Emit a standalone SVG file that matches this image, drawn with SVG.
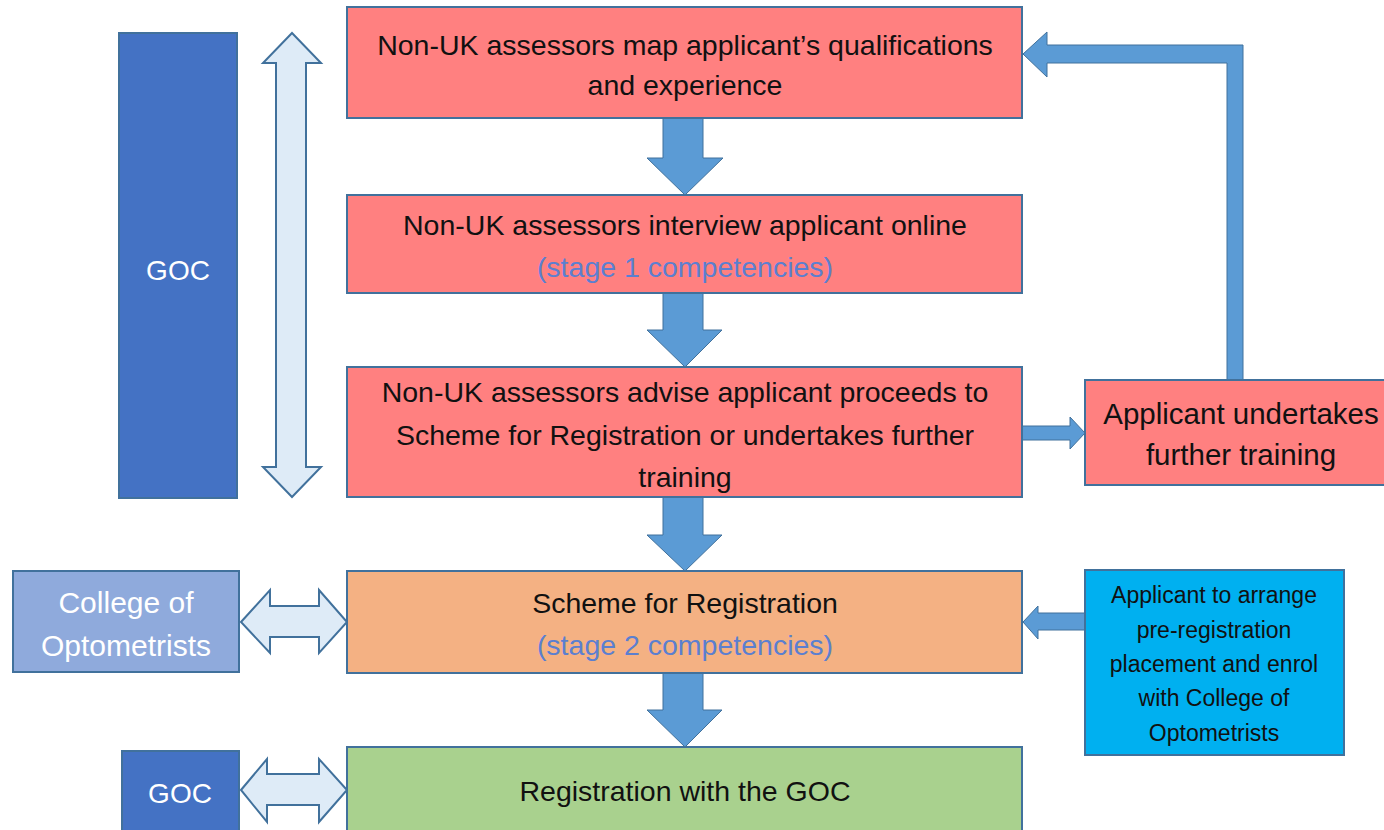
<svg xmlns="http://www.w3.org/2000/svg" width="1384" height="830" viewBox="0 0 1384 830">
<style>
.box{stroke:#41719c;stroke-width:2}
.red{fill:#ff8080}
.org{fill:#f4b183}
.grn{fill:#a9d18e}
.dk{fill:#4472c4}
.lt{fill:#8faadc}
.cy{fill:#00b0f0}
.arr{fill:#5b9bd5;stroke:#41719c;stroke-width:1}
.dbl{fill:#deebf7;stroke:#41719c;stroke-width:2}
text{font-family:"Liberation Sans",Arial,sans-serif;text-anchor:middle}
.t{font-size:28.5px;fill:#111}
.b{font-size:28.5px;fill:#5b7fd0}
.w{font-size:30px;fill:#fff}
.g{font-size:28px;fill:#fff}
.s{font-size:23px;fill:#111}
.f{font-size:29.5px;fill:#111}
</style>
<rect width="1384" height="830" fill="#fff"/>
<g id="connectors">
<path class="arr" d="M663 118 H703 V158 H723 L685 195 L647 158 H663 Z"/>
<path class="arr" d="M663 293 H703 V330 H722 L685 367 L647 330 H663 Z"/>
<path class="arr" d="M663 497 H703 V535 H722 L685 571 L647 535 H663 Z"/>
<path class="arr" d="M663 673 H703 V710 H722 L685 747 L647 710 H663 Z"/>
<path class="arr" d="M1022 426 H1070 V417 L1085 433 L1070 449 V440 H1022 Z"/>
<path class="arr" d="M1227 380 V63 H1047 V77 L1023 54 L1047 32 V45 H1243 V380 Z"/>
<path class="arr" d="M1085 613 H1038 V606 L1023 622 L1038 639 V630 H1085 Z"/>
<path class="dbl" d="M292 33 L321 63 H306 V467 H321 L292 497 L263 467 H276 V63 H263 Z"/>
<path class="dbl" d="M241 622 L270 590 V606 H319 V590 L347 622 L319 653 V637 H270 V653 Z"/>
<path class="dbl" d="M241 790 L267 759 V774 H319 V759 L347 790 L319 822 V805 H267 V822 Z"/>
</g>
<g id="goc-main">
<rect class="box dk" x="119" y="33" width="118" height="465"/>
<text class="g" x="178" y="280">GOC</text>
</g>
<g id="map">
<rect class="box red" x="347" y="7" width="675" height="111"/>
<text class="t" x="685" y="55">Non-UK assessors map applicant’s qualifications</text>
<text class="t" x="685" y="95">and experience</text>
</g>
<g id="interview">
<rect class="box red" x="347" y="195" width="675" height="98"/>
<text class="t" x="685" y="235">Non-UK assessors interview applicant online</text>
<text class="b" x="685" y="277">(stage 1 competencies)</text>
</g>
<g id="advise">
<rect class="box red" x="347" y="367" width="675" height="130"/>
<text class="t" x="685" y="402">Non-UK assessors advise applicant proceeds to</text>
<text class="t" x="685" y="445">Scheme for Registration or undertakes further</text>
<text class="t" x="685" y="487">training</text>
</g>
<g id="further">
<rect class="box red" x="1085" y="380" width="310" height="105"/>
<text class="f" x="1241" y="424">Applicant undertakes</text>
<text class="f" x="1241" y="465">further training</text>
</g>
<g id="scheme">
<rect class="box org" x="347" y="571" width="675" height="102"/>
<text class="t" x="685" y="613">Scheme for Registration</text>
<text class="b" x="685" y="655">(stage 2 competencies)</text>
</g>
<g id="college">
<rect class="box lt" x="13" y="571" width="226" height="101"/>
<text class="w" x="126" y="613">College of</text>
<text class="w" x="126" y="656">Optometrists</text>
</g>
<g id="arrange">
<rect class="box cy" x="1085" y="570" width="259" height="185"/>
<text class="s" x="1214" y="603">Applicant to arrange</text>
<text class="s" x="1214" y="638">pre-registration</text>
<text class="s" x="1214" y="672">placement and enrol</text>
<text class="s" x="1214" y="706">with College of</text>
<text class="s" x="1214" y="741">Optometrists</text>
</g>
<g id="registration">
<rect class="box grn" x="347" y="747" width="675" height="90"/>
<text class="t" x="685" y="801">Registration with the GOC</text>
</g>
<g id="goc-small">
<rect class="box dk" x="122" y="751" width="117" height="85"/>
<text class="g" x="180" y="803">GOC</text>
</g>
</svg>
